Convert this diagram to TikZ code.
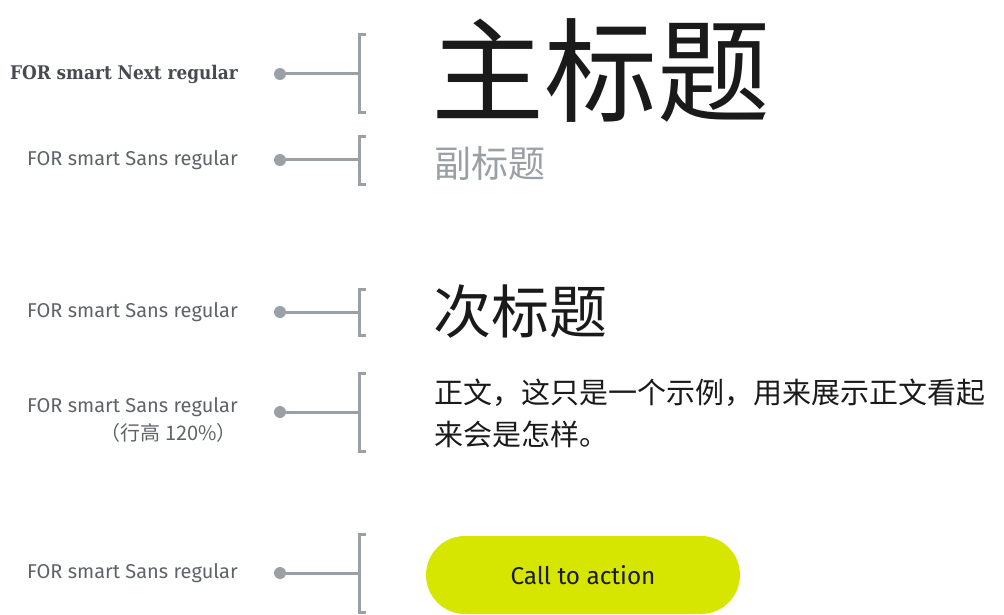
\documentclass[tikz,border=0pt]{standalone}
\usepackage{fontspec}
\setmainfont{Fira Sans}
\newfontfamily\cjk{Noto Sans CJK SC}
\newfontfamily\slab{DejaVu Serif Condensed}
\newfontfamily\lbl{Fira Sans}
\definecolor{linegray}{HTML}{9AA0A6}
\definecolor{labelgray}{HTML}{5F6368}
\definecolor{subgray}{HTML}{9AA0A6}
\definecolor{ctagreen}{HTML}{D7E600}
\definecolor{ink}{HTML}{1A1A1A}
\begin{document}
\begin{tikzpicture}[x=1pt,y=-1pt,
  lab/.style={anchor=east,inner sep=0pt,text=labelgray,font=\lbl\fontsize{20}{22}\selectfont},
  dotnode/.style={circle,fill=linegray,inner sep=0pt,minimum size=12pt},
  conn/.style={draw=linegray,line width=3pt},
  brk/.style={draw=linegray,line width=3pt},
  cjktext/.style={anchor=base west,inner sep=0pt,text=ink}]
\useasboundingbox (0,0) rectangle (1004,615);
% row 1
\node[lab,font=\slab\bfseries\fontsize{18.8}{22}\selectfont,text=labelgray!75!black] (l1) at (238,74) {FOR smart Next regular};
\node[dotnode] (d1) at (280,74) {};
\coordinate (b1) at (359,74);
\draw[conn] (d1) -- (b1);
\draw[brk] (366,35) -- (359,35) -- (359,113) -- (366,113);
\node[cjktext,font=\cjk\fontsize{113}{120}\selectfont] (t1) at (431,114) {主标题};
% row 2
\node[lab] (l2) at (238,160) {FOR smart Sans regular};
\node[dotnode] (d2) at (280,160) {};
\coordinate (b2) at (359,160);
\draw[conn] (d2) -- (b2);
\draw[brk] (366,137) -- (359,137) -- (359,184) -- (366,184);
\node[cjktext,text=subgray,font=\cjk\fontsize{37}{40}\selectfont] (t2) at (434,177) {副标题};
% row 3
\node[lab] (l3) at (238,312) {FOR smart Sans regular};
\node[dotnode] (d3) at (280,312) {};
\coordinate (b3) at (359,312);
\draw[conn] (d3) -- (b3);
\draw[brk] (366,289) -- (359,289) -- (359,335) -- (366,335);
\node[cjktext,font=\cjk\fontsize{58}{60}\selectfont] (t3) at (433,333) {次标题};
% row 4
\node[lab] (l4) at (238,407) {FOR smart Sans regular};
\node[lab,font=\cjk\fontsize{20}{22}\selectfont] (l4b) at (237,433) {（行高 120\%）};
\node[dotnode] (d4) at (280,412) {};
\coordinate (b4) at (359,412);
\draw[conn] (d4) -- (b4);
\draw[brk] (366,373) -- (359,373) -- (359,451) -- (366,451);
\node[cjktext,font=\cjk\fontsize{29}{42}\selectfont] (t4a) at (434,403) {正文，这只是一个示例，用来展示正文看起};
\node[cjktext,font=\cjk\fontsize{29}{42}\selectfont] (t4b) at (434,445) {来会是怎样。};
% row 5
\node[lab] (l5) at (238,573) {FOR smart Sans regular};
\node[dotnode] (d5) at (280,573) {};
\coordinate (b5) at (359,573);
\draw[conn] (d5) -- (b5);
\draw[brk] (366,534) -- (359,534) -- (359,612) -- (366,612);
\node[fill=ctagreen,rounded corners=39pt,minimum width=314pt,minimum height=78pt,inner sep=0pt,
  font=\lbl\fontsize{24.3}{27}\selectfont,text=ink] (cta) at (583,575) {Call to action};
\end{tikzpicture}
\end{document}
